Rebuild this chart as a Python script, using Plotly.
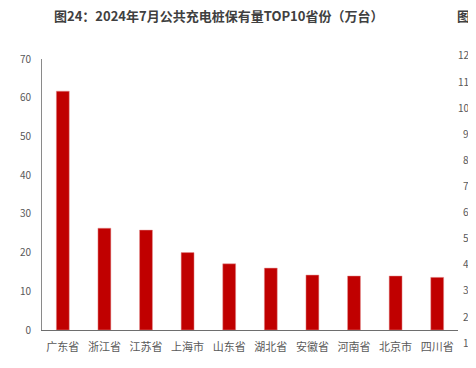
import plotly.graph_objects as go

provinces = ["广东省", "浙江省", "江苏省", "上海市", "山东省", "湖北省", "安徽省", "河南省", "北京市", "四川省"]
piles = [61.7, 26.3, 25.8, 20.0, 17.1, 16.0, 14.2, 13.95, 13.95, 13.6]
y_ticks = [0, 10, 20, 30, 40, 50, 60, 70]
title_text = "图24：2024年7月公共充电桩保有量TOP10省份（万台）"
next_title = "图25"
next_ticks = [120, 110, 100, 90, 80, 70, 60, 50, 40, 30, 20, 10]

FONT = "Noto Sans CJK SC"
GRAY = "#595959"

# page has an 8px body margin; plot area target (page px): x 35..458, y 59..330
FW, FH = 476, 368
L, T, W, H = 27, 51, 423, 271

fig = go.Figure()
fig.add_trace(go.Bar(
    x=provinces, y=piles,
    marker=dict(color="#C00000", line=dict(color="rgba(230,150,150,0.8)", width=0.6)),
    width=0.31,
))

fig.update_layout(
    width=FW, height=FH,
    margin=dict(l=L, r=FW - L - W, t=T, b=FH - T - H),
    paper_bgcolor="white", plot_bgcolor="white",
    showlegend=False,
    font=dict(family=FONT, color=GRAY),
    xaxis=dict(
        showline=True, linecolor="#6e6e6e", linewidth=1.3,
        ticks="", tickfont=dict(size=11, color=GRAY),
        showgrid=False, ticklabelstandoff=7,
    ),
    yaxis=dict(
        range=[0, 70], tickvals=y_ticks,
        showline=True, linecolor="#8a8a8a", linewidth=1,
        ticks="", tickfont=dict(size=10, color=GRAY),
        showgrid=False, zeroline=False, ticklabelstandoff=8,
    ),
)

def px_x(page_x):
    return (page_x - 35) / W

def px_y(page_y):
    return (330 - page_y) / H

fig.add_annotation(
    text=title_text, xref="paper", yref="paper",
    x=px_x(45), y=px_y(16),
    xanchor="left", yanchor="middle", showarrow=False,
    font=dict(family=FONT, size=13, color="#404040", weight="bold"),
)
fig.add_annotation(
    text=next_title, xref="paper", yref="paper",
    x=px_x(455), y=px_y(16),
    xanchor="left", yanchor="middle", showarrow=False,
    font=dict(family=FONT, size=13, color="#404040", weight="bold"),
)
# neighbouring chart's axis labels (cut off at right edge of the window)
for i, t in enumerate(next_ticks):
    ypix = 55 + i * 26.1
    fig.add_annotation(
        text=str(t), xref="paper", yref="paper",
        x=px_x(477), y=px_y(ypix),
        xanchor="right", yanchor="middle", showarrow=False,
        font=dict(family=FONT, size=10, color=GRAY),
    )

fig.write_html("out.html")
